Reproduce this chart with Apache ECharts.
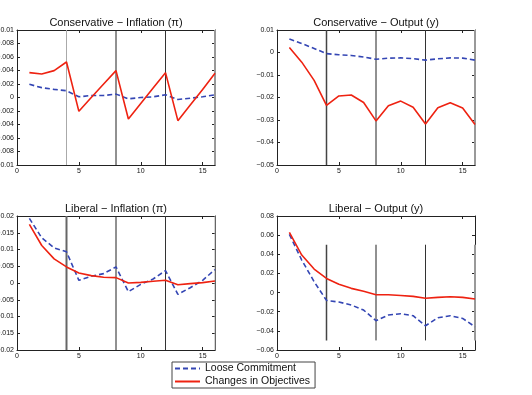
<!DOCTYPE html>
<html><head><meta charset="utf-8">
<script src="https://cdn.jsdelivr.net/npm/echarts@6/dist/echarts.min.js"></script>
<style>html,body{margin:0;padding:0;background:#fff}#c{width:532px;height:395px}</style>
</head><body><div id="c"></div>
<script>
const periods = [1,2,3,4,5,6,7,8,9,10,11,12,13,14,15,16];

const consInflLoose  = [0.00195,0.00146,0.0012,0.001,0.0001,0.0003,0.0003,0.0005,-0.0002,0.0,0.0001,0.0004,-0.0003,-0.0001,0.0001,0.0004];
const consInflChange = [0.00368,0.00348,0.00398,0.00526,-0.00205,0.0,0.002,0.00398,-0.00318,-0.00089,0.0014,0.00368,-0.00343,-0.0011,0.0012,0.00358];

const consOutLoose  = [0.006,0.004,0.0018,-0.0005,-0.001,-0.0013,-0.002,-0.003,-0.0025,-0.0024,-0.0027,-0.0034,-0.0028,-0.0024,-0.0025,-0.0034];
const consOutChange = [0.0022,-0.0043,-0.0124,-0.0235,-0.0193,-0.0189,-0.0222,-0.0304,-0.0237,-0.0216,-0.0243,-0.0318,-0.0246,-0.0223,-0.0247,-0.032];

const libInflLoose  = [0.0193,0.0135,0.0105,0.0093,0.0008,0.002,0.0028,0.0048,-0.0026,-0.0004,0.0012,0.0037,-0.0034,-0.0014,0.0008,0.004];
const libInflChange = [0.0175,0.0112,0.0072,0.0048,0.003,0.0022,0.0017,0.0016,0.0,0.0002,0.0005,0.0008,-0.0005,-0.0002,0.0001,0.0006];

const libOutLoose  = [0.0608,0.034,0.0114,-0.0082,-0.0099,-0.013,-0.0183,-0.0294,-0.0235,-0.0221,-0.0242,-0.0347,-0.0263,-0.0242,-0.027,-0.0357];
const libOutChange = [0.0629,0.0392,0.0246,0.0148,0.0086,0.0044,0.0013,-0.0022,-0.0022,-0.003,-0.004,-0.006,-0.005,-0.0043,-0.005,-0.0068];

const titles = ['Conservative \u2212 Inflation (\u03c0)','Conservative \u2212 Output (y)','Liberal \u2212 Inflation (\u03c0)','Liberal \u2212 Output (y)'];
const yMins = [-0.01,-0.05,-0.02,-0.06];
const yMaxs = [0.01,0.01,0.02,0.08];
const ySteps = [0.002,0.01,0.005,0.02];
const vlineX = [4,8,12,16];
const vlineLo = [-0.01,-0.05,-0.02,-0.05];
const vlineHi = [0.01,0.01,0.02,0.05];
const seriesNames = ['Loose Commitment','Changes in Objectives'];
const panelLoose = [consInflLoose,consOutLoose,libInflLoose,libOutLoose];
const panelChange = [consInflChange,consOutChange,libInflChange,libOutChange];

const grids = [
  {left:17,top:30,width:198,height:135},
  {left:277,top:30,width:198,height:135},
  {left:17,top:216,width:198,height:134},
  {left:277,top:216,width:198,height:134}
];
// per-panel vline styles: [x=4, x=8, x=12, x=16]
const vStyles = [
  [{c:'#aaaaaa',w:1},{c:'#222',w:1},{c:'#333',w:1},{c:'#999',w:2}],
  [{c:'#444',w:1.5},{c:'#222',w:1},{c:'#333',w:1},{c:'#999',w:2}],
  [{c:'#666',w:2},{c:'#222',w:1},{c:'#333',w:1},{c:'#aaa',w:1}],
  [{c:'#444',w:1.5},{c:'#222',w:1},{c:'#333',w:1},{c:'#999',w:2}]
];

function fmtY(v){
  if (Math.abs(v) < 1e-12) return '0';
  const s = String(parseFloat(Math.abs(v).toFixed(4)));
  return (v < 0 ? '\u2212' : '') + s;
}

const xAxis = [], yAxis = [], series = [], title = [];
grids.forEach((g,i)=>{
  const axLine = {show:true,onZero:false,lineStyle:{color:'#222',width:1}};
  const tick = {show:true,inside:true,length:3,lineStyle:{color:'#222'}};
  xAxis.push({type:'value',gridIndex:i,min:0,max:16,interval:5,position:'bottom',
    axisLine:axLine,axisTick:tick,
    axisLabel:{fontSize:7,color:'#111',margin:3,fontFamily:'Liberation Sans',
      formatter:v=> (v%5===0? String(v):'')},
    splitLine:{show:false}});
  xAxis.push({type:'value',gridIndex:i,min:0,max:16,interval:5,position:'top',
    axisLine:axLine,axisTick:tick,axisLabel:{show:false},splitLine:{show:false}});
  yAxis.push({type:'value',gridIndex:i,min:yMins[i],max:yMaxs[i],interval:ySteps[i],position:'left',
    axisLine:axLine,axisTick:tick,
    axisLabel:{fontSize:7,color:'#111',margin:3,fontFamily:'Liberation Sans',formatter:fmtY},
    splitLine:{show:false}});
  yAxis.push({type:'value',gridIndex:i,min:yMins[i],max:yMaxs[i],interval:ySteps[i],position:'right',
    axisLine:axLine,axisTick:tick,axisLabel:{show:false},splitLine:{show:false}});
  title.push({text:titles[i],left:g.left+g.width/2,top:g.top-13,textAlign:'center',padding:0,
    textStyle:{fontSize:11,fontWeight:'normal',color:'#111',fontFamily:'Liberation Sans'}});
  vlineX.forEach((x,k)=>{
    series.push({type:'line',xAxisIndex:2*i,yAxisIndex:2*i,symbol:'none',silent:true,z:1,
      data:[[x,vlineLo[i]],[x,vlineHi[i]]],
      lineStyle:{color:vStyles[i][k].c,width:vStyles[i][k].w},animation:false});
  });
  series.push({name:seriesNames[0],type:'line',xAxisIndex:2*i,yAxisIndex:2*i,symbol:'none',z:3,
    data:periods.map((p,j)=>[p,panelLoose[i][j]]),
    lineStyle:{color:'#3446b4',width:1.6,type:[5,3]},itemStyle:{color:'#3446b4'},animation:false});
  series.push({name:seriesNames[1],type:'line',xAxisIndex:2*i,yAxisIndex:2*i,symbol:'none',z:4,
    data:periods.map((p,j)=>[p,panelChange[i][j]]),
    lineStyle:{color:'#ee2211',width:1.6},itemStyle:{color:'#ee2211'},animation:false});
});

const chart = echarts.init(document.getElementById('c'),null,{renderer:'canvas'});
chart.setOption({
  animation:false,
  backgroundColor:'#fff',
  title:title,
  grid:grids.map(g=>Object.assign({containLabel:false,outerBoundsMode:'none'},g)),
  xAxis:xAxis,yAxis:yAxis,series:series,
  legend:{data:seriesNames,orient:'vertical',left:172,top:362,
    backgroundColor:'#fff',borderColor:'#444',borderWidth:1,borderRadius:0,
    padding:[1,5,1,2],itemWidth:25,itemHeight:10,itemGap:2,
    itemStyle:{opacity:0},
    textStyle:{fontSize:10.5,color:'#111',fontFamily:'Liberation Sans'}}
});
</script></body></html>
